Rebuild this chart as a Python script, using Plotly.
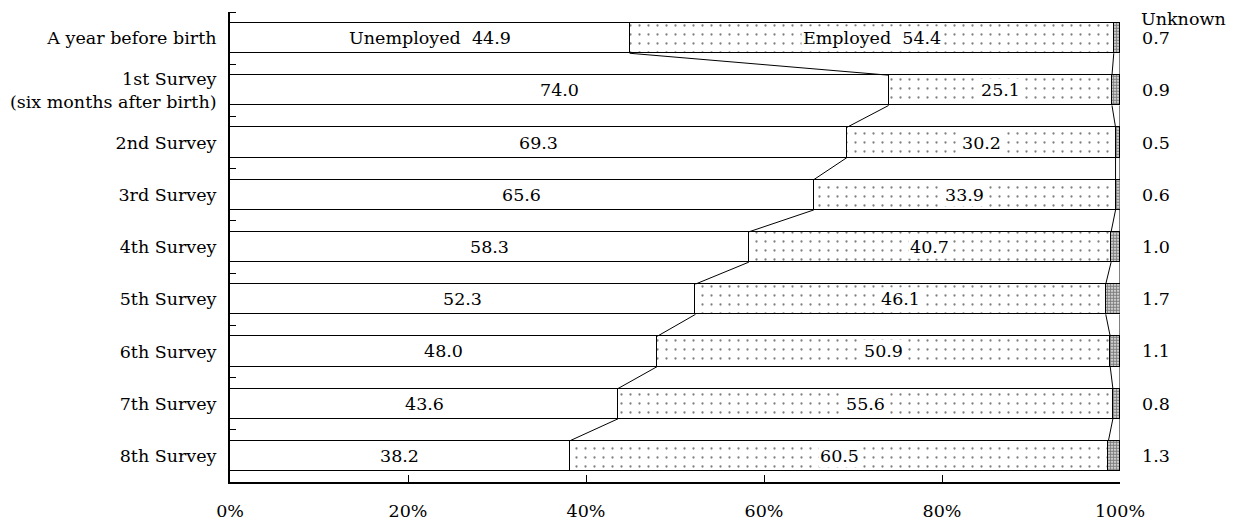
import plotly.graph_objects as go

categories = ["A year before birth", "1st Survey<br>(six months after birth)", "2nd Survey",
              "3rd Survey", "4th Survey", "5th Survey", "6th Survey", "7th Survey", "8th Survey"]
unemployed = [44.9, 74.0, 69.3, 65.6, 58.3, 52.3, 48.0, 43.6, 38.2]
employed = [54.4, 25.1, 30.2, 33.9, 40.7, 46.1, 50.9, 55.6, 60.5]
unknown = [0.7, 0.9, 0.5, 0.6, 1.0, 1.7, 1.1, 0.8, 1.3]
x_ticks = [0, 20, 40, 60, 80, 100]
x_tick_labels = ["0%", "20%", "40%", "60%", "80%", "100%"]

FONT = "DejaVu Serif"
FS = 17.5
ypos = list(range(len(categories)))
BW = 0.58

fig = go.Figure()
fig.add_trace(go.Bar(y=ypos, x=unemployed, orientation="h", width=BW,
                     marker=dict(color="white", line=dict(color="black", width=1))))
fig.add_trace(go.Bar(y=ypos, x=employed, orientation="h", width=BW,
                     marker=dict(color="white", line=dict(color="black", width=1),
                                 pattern=dict(shape=".", size=9, solidity=0.05,
                                              fgcolor="black", bgcolor="white"))))
fig.add_trace(go.Bar(y=ypos, x=unknown, orientation="h", width=BW,
                     marker=dict(color="white", line=dict(color="black", width=1),
                                 pattern=dict(shape=".", size=3, solidity=0.7,
                                              fgcolor="black", bgcolor="white"))))

# connector lines between bars
cx, cy = [], []
for i in range(len(categories) - 1):
    b1 = [unemployed[i], unemployed[i] + employed[i], 100]
    b2 = [unemployed[i + 1], unemployed[i + 1] + employed[i + 1], 100]
    for a, b in zip(b1, b2):
        cx += [min(a, 100), min(b, 100), None]
        cy += [i + BW / 2, i + 1 - BW / 2, None]
fig.add_trace(go.Scatter(x=cx, y=cy, mode="lines", line=dict(color="black", width=1),
                         hoverinfo="skip"))

ann = []
for i in ypos:
    ut = f"Unemployed  {unemployed[i]:.1f}" if i == 0 else f"{unemployed[i]:.1f}"
    et = f"Employed  {employed[i]:.1f}" if i == 0 else f"{employed[i]:.1f}"
    ann.append(dict(x=unemployed[i] / 2, y=i, text=ut, showarrow=False,
                    font=dict(family=FONT, size=FS, color="black")))
    ann.append(dict(x=unemployed[i] + employed[i] / 2, y=i, text=et, showarrow=False,
                    bgcolor="white", borderpad=1,
                    font=dict(family=FONT, size=FS, color="black")))
    ann.append(dict(x=1.022, xref="paper", y=i, text=f"{unknown[i]:.1f}", showarrow=False,
                    xanchor="left", font=dict(family=FONT, size=FS, color="black")))
ann.append(dict(x=1.022, xref="paper", y=1.0 + 4 / 470, yref="paper", text="Unknown",
                showarrow=False, xanchor="left", yanchor="top", borderpad=0,
                font=dict(family=FONT, size=FS, color="black")))

fig.update_layout(
    barmode="stack", showlegend=False, width=1233, height=515,
    margin=dict(l=222, r=121, t=4, b=41, autoexpand=False),
    plot_bgcolor="white", paper_bgcolor="white",
    font=dict(family=FONT, size=FS, color="black"),
    annotations=ann, bargap=0,
    xaxis=dict(range=[0, 100], tickvals=x_ticks, ticktext=x_tick_labels, ticks="inside",
               ticklen=7, tickcolor="black", showline=True, linecolor="black", linewidth=2,
               showgrid=False, zeroline=False, ticklabelstandoff=12, automargin=False),
    yaxis=dict(range=[8.5, -0.5], tickvals=ypos, ticktext=categories, ticks="", ticklen=0,
               showline=True, linecolor="black", linewidth=2, showgrid=False, zeroline=False,
               ticklabelstandoff=8, automargin=False,
               minor=dict(tickvals=[-0.5 + k for k in range(9)], ticks="inside", ticklen=6,
                          tickcolor="black", showgrid=False)),
)
fig.write_html("out.html")
